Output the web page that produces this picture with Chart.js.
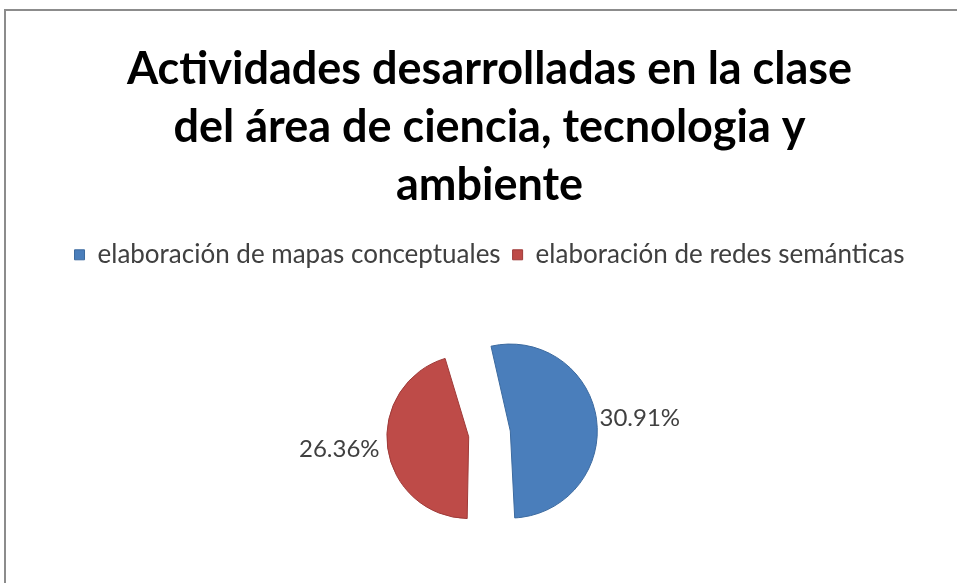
<!DOCTYPE html>
<html>
<head>
<meta charset="utf-8">
<script src="https://cdn.jsdelivr.net/npm/chart.js@4.4.1/dist/chart.umd.min.js"></script>
<style>
    body { margin: 0; background: #fff; overflow: hidden; width: 957px; height: 583px; position: relative; }
    #frame { position: absolute; left: 4px; top: 9px; right: -10px; bottom: -10px;
             border-top: 2px solid #8c8c8c; border-left: 2px solid #8c8c8c; pointer-events: none; }
    canvas { position: absolute; left: 0; top: 0; }
</style>
</head>
<body>
<canvas id="chart" width="957" height="600"></canvas>
<div id="frame"></div>
<script>
const titleLines = ['Actividades desarrolladas en la clase', 'del área de ciencia, tecnologia y', 'ambiente']
const categories = ['elaboración de mapas conceptuales', 'elaboración de redes semánticas']
const percentValues = [30.91, 26.36]
const sliceColors = ['#4a7ebb', '#be4b48']
const sliceEdges = ['#3c6a9f', '#9e3a38']

// chart.js pulls an exploded slice out by offset/4 (and grows it a bit)
const sliceOffset = 84
const labelGap = 45

// percentage text just outside each slice, along its middle angle
const outsideLabels = {
    id: 'outsideLabels',
    afterDatasetsDraw(chart) {
        const ctx = chart.ctx
        const meta = chart.getDatasetMeta(0)
        ctx.save()
        ctx.font = '24px Lato'
        ctx.fillStyle = '#404040'
        ctx.textBaseline = 'middle'
        meta.data.forEach((arc, i) => {
            const p = arc.getProps(['x', 'y', 'startAngle', 'endAngle', 'outerRadius'], true)
            const mid = (p.startAngle + p.endAngle) / 2
            const r = p.outerRadius + labelGap
            const x = p.x + Math.cos(mid) * r
            const y = p.y + Math.sin(mid) * r
            ctx.textAlign = Math.cos(mid) >= 0 ? 'left' : 'right'
            ctx.fillText(percentValues[i].toFixed(2) + '%', x, y)
        })
        ctx.restore()
    }
}

const config = {
    type: 'pie',
    data: {
        labels: categories,
        datasets: [{
            data: percentValues,
            backgroundColor: sliceColors,
            borderColor: sliceEdges,
            borderWidth: 1,
            offset: sliceOffset,
            radius: 66,
            rotation: -15,
        }]
    },
    options: {
        responsive: false,
        animation: false,
        layout: {
            padding: { left: 22, right: 0, top: 10, bottom: 10 }
        },
        plugins: {
            title: {
                display: true,
                text: titleLines,
                color: '#000',
                font: { family: 'Lato', size: 45, weight: 'bold', lineHeight: 1.28 },
                padding: { top: 31, bottom: 16 }
            },
            legend: {
                display: true,
                position: 'top',
                labels: {
                    boxWidth: 10,
                    boxHeight: 10,
                    color: '#404040',
                    font: { family: 'Lato', size: 26 },
                    padding: 12
                }
            },
            tooltip: { enabled: false }
        }
    },
    plugins: [outsideLabels]
}

const chart = new Chart(document.getElementById('chart'), config)
</script>
</body>
</html>
